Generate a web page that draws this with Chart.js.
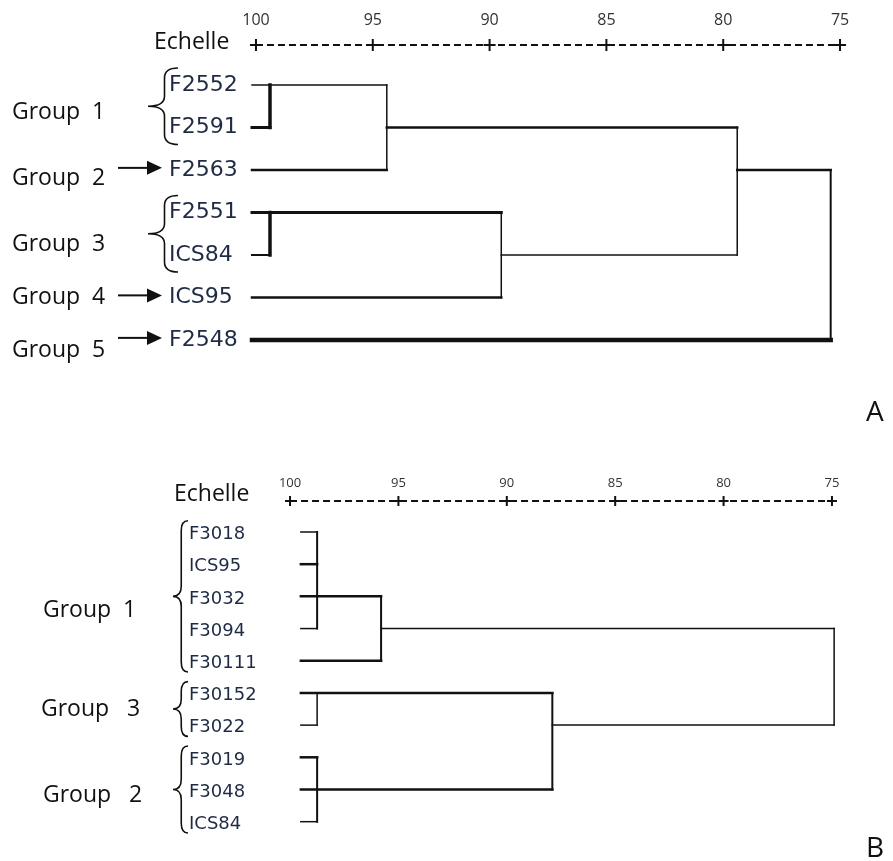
<!DOCTYPE html>
<html>
<head>
<meta charset="utf-8">
<script src="https://cdn.jsdelivr.net/npm/chart.js@4.4.0/dist/chart.umd.min.js"></script>
<style>
  body { margin: 0; background: #fff; }
  #page { position: relative; width: 893px; height: 861px; overflow: hidden; font-family: 'Open Sans', sans-serif; color: #111; }
  .wrap { position: absolute; left: 0; width: 893px; }
  .lbl { position: absolute; white-space: pre; line-height: 1; transform: translateY(-50%); }
</style>
</head>
<body>
<div id="page">
  <div class="wrap" style="top:0;height:400px"><canvas id="chartA" width="893" height="400"></canvas></div>
  <div class="wrap" style="top:450px;height:411px"><canvas id="chartB" width="893" height="411"></canvas></div>

  <div class="lbl" style="left:154px;top:40px;font-size:23px">Echelle</div>
  <div class="lbl" style="left:12px;top:110px;font-size:23px">Group  1</div>
  <div class="lbl" style="left:12px;top:176px;font-size:23px">Group  2</div>
  <div class="lbl" style="left:12px;top:242px;font-size:23px">Group  3</div>
  <div class="lbl" style="left:12px;top:295px;font-size:23px">Group  4</div>
  <div class="lbl" style="left:12px;top:348px;font-size:23px">Group  5</div>
  <div class="lbl" style="left:866px;top:410px;font-size:28px">A</div>

  <div class="lbl" style="left:174px;top:492px;font-size:23px">Echelle</div>
  <div class="lbl" style="left:43px;top:608px;font-size:23px">Group  1</div>
  <div class="lbl" style="left:41px;top:707px;font-size:23px">Group   3</div>
  <div class="lbl" style="left:43px;top:793px;font-size:23px">Group   2</div>
  <div class="lbl" style="left:866px;top:846px;font-size:28px">B</div>
</div>
<script>
// scale ticks (similarity, %)
const scaleTicks = [100, 95, 90, 85, 80, 75];

// ---- panel A ----
const leavesA = ['F2552', 'F2591', 'F2563', 'F2551', 'ICS84', 'ICS95', 'F2548'];
const leafStartA = 100.17;
const leafEndA = [94.4, 99.4, 94.4, 89.5, 99.4, 89.5, 75.4];
const mergeLevelA = [99.4, 94.4, 99.4, 89.5, 79.4, 75.4];
const mergeTopA = [0, 0, 3, 3, 1, 2];
const mergeBottomA = [1, 2, 4, 5, 4, 6];
const mergeOutRowA = [null, 1, null, 4, 2, null];
const mergeOutToA = [null, 79.4, null, 79.4, 75.4, null];
const bracesA = [[0, 1], [3, 4]];
const arrowsA = [2, 5, 6];

// ---- panel B ----
const leavesB = ['F3018', 'ICS95', 'F3032', 'F3094', 'F30111', 'F30152', 'F3022', 'F3019', 'F3048', 'ICS84'];
const leafStartB = 99.5;
const leafEndB = [98.75, 98.75, 95.8, 98.75, 95.8, 87.9, 98.75, 98.75, 87.9, 98.75];
const mergeLevelB = [98.75, 95.8, 98.75, 98.75, 87.9, 74.9];
const mergeTopB = [0, 2, 5, 7, 5, 3];
const mergeBottomB = [3, 4, 6, 9, 8, 6];
const mergeOutRowB = [null, 3, null, null, 6, null];
const mergeOutToB = [null, 74.9, null, null, 74.9, null];
const bracesB = [[0, 4], [5, 6], [7, 9]];

// line widths (style only)
const wLeafA = [1.5, 3, 2.5, 3, 2, 2.5, 4.5];
const wMergeA = [3.5, 1.5, 3.5, 1.5, 1.5, 2];
const wOutA = [0, 2.5, 0, 1.5, 2.5, 0];
const wLeafB = [1.5, 2.5, 2.5, 1.5, 2.5, 2.5, 1.5, 2.5, 2.5, 1.5];
const wMergeB = [2, 2, 1.5, 2, 2, 1.5];
const wOutB = [0, 1.5, 0, 0, 1.5, 0];

function segment(a, b, w) {
  return {
    data: [a, b], showLine: true, borderColor: '#111', borderWidth: w,
    borderCapStyle: 'square', pointRadius: 0, fill: false, clip: false
  };
}

function buildSets(p, yTop) {
  const sets = [];
  p.leafEnd.forEach((end, r) => {
    sets.push(segment({ x: p.leafStart, y: r }, { x: end, y: r }, p.wLeaf[r]));
  });
  p.mergeLevel.forEach((lv, i) => {
    sets.push(segment({ x: lv, y: p.mergeTop[i] }, { x: lv, y: p.mergeBottom[i] }, p.wMerge[i]));
    if (p.mergeOutRow[i] !== null) {
      sets.push(segment({ x: lv, y: p.mergeOutRow[i] }, { x: p.mergeOutTo[i], y: p.mergeOutRow[i] }, p.wOut[i]));
    }
  });
  // dashed scale line with "+" marks
  sets.push({
    data: [{ x: scaleTicks[0], y: yTop }, { x: scaleTicks[scaleTicks.length - 1], y: yTop }],
    showLine: true, borderColor: '#111', borderWidth: 2, borderDash: [7, 4],
    pointRadius: 0, clip: false
  });
  sets.push({
    data: scaleTicks.map(v => ({ x: v, y: yTop })),
    showLine: false, pointStyle: 'cross', pointRadius: p.crossR,
    pointBorderWidth: 2, borderColor: '#111', clip: false
  });
  return sets;
}

const groupMarks = {
  id: 'groupMarks',
  afterDraw(chart, args, opts) {
    const ctx = chart.ctx;
    const y = chart.scales.y;
    ctx.save();
    ctx.strokeStyle = '#111';
    ctx.fillStyle = '#111';
    ctx.lineWidth = 1.6;
    (opts.braces || []).forEach(([r0, r1]) => {
      const top = y.getPixelForValue(r0 - opts.braceExt);
      const bot = y.getPixelForValue(r1 + opts.braceExt);
      const mid = (top + bot) / 2;
      const xe = opts.braceEnd, xt = opts.braceTip;
      const xm = xt + (xe - xt) * 0.55;
      const k = Math.min(10, (bot - top) / 5);
      ctx.beginPath();
      ctx.moveTo(xe, top);
      ctx.quadraticCurveTo(xm, top, xm, top + k);
      ctx.lineTo(xm, mid - k);
      ctx.quadraticCurveTo(xm, mid, xt, mid);
      ctx.quadraticCurveTo(xm, mid, xm, mid + k);
      ctx.lineTo(xm, bot - k);
      ctx.quadraticCurveTo(xm, bot, xe, bot);
      ctx.stroke();
    });
    (opts.arrows || []).forEach(r => {
      const py = y.getPixelForValue(r - 0.05);
      const x0 = opts.arrowFrom, x1 = opts.arrowTo;
      ctx.lineWidth = 2;
      ctx.beginPath();
      ctx.moveTo(x0, py);
      ctx.lineTo(x1 - 14, py);
      ctx.stroke();
      ctx.beginPath();
      ctx.moveTo(x1, py);
      ctx.lineTo(x1 - 15, py - 7);
      ctx.lineTo(x1 - 15, py + 7);
      ctx.closePath();
      ctx.fill();
    });
    ctx.restore();
  }
};

function makeDendro(id, p) {
  new Chart(document.getElementById(id), {
    type: 'scatter',
    data: { datasets: buildSets(p, p.yMin) },
    options: {
      responsive: false,
      animation: false,
      events: [],
      layout: { padding: { left: p.padLeft, right: p.padRight, top: 0, bottom: p.padBottom } },
      plugins: {
        legend: { display: false },
        tooltip: { enabled: false },
        groupMarks: p.marks
      },
      scales: {
        x: {
          type: 'linear', position: 'top', reverse: true,
          min: 74.8, max: 100.2,
          afterBuildTicks: s => { s.ticks = scaleTicks.map(v => ({ value: v })); },
          afterFit: s => { s.height = p.axisH; },
          ticks: {
            color: '#333', padding: p.tickPad,
            font: { family: 'Open Sans', size: p.tickSize },
            callback: v => String(v)
          },
          grid: { drawOnChartArea: false, drawTicks: false },
          border: { display: false }
        },
        y: {
          type: 'linear', reverse: true, min: p.yMin, max: p.yMax,
          afterBuildTicks: s => { s.ticks = p.leaves.map((_, i) => ({ value: i + p.labelShift })); },
          afterFit: s => { s.width = p.yW; },
          ticks: {
            crossAlign: 'far', autoSkip: false, color: '#1f2a44',
            font: { family: 'DejaVu Sans', size: p.leafSize },
            callback: v => p.leaves[Math.round(v)]
          },
          grid: { display: false },
          border: { display: false }
        }
      }
    },
    plugins: [groupMarks]
  });
}

makeDendro('chartA', {
  leaves: leavesA, leafStart: leafStartA, leafEnd: leafEndA,
  mergeLevel: mergeLevelA, mergeTop: mergeTopA, mergeBottom: mergeBottomA,
  mergeOutRow: mergeOutRowA, mergeOutTo: mergeOutToA,
  wLeaf: wLeafA, wMerge: wMergeA, wOut: wOutA,
  yMin: -0.941, yMax: 6.494, padLeft: 169, yW: 82.3, padRight: 48.3, padBottom: 39,
  axisH: 45, tickPad: 15, tickSize: 16, leafSize: 22, labelShift: 0, crossR: 6,
  marks: { braces: bracesA, braceExt: 0.4, braceTip: 148, braceEnd: 178, arrows: arrowsA, arrowFrom: 118, arrowTo: 162 }
});

makeDendro('chartB', {
  leaves: leavesB, leafStart: leafStartB, leafEnd: leafEndB,
  mergeLevel: mergeLevelB, mergeTop: mergeTopB, mergeBottom: mergeBottomB,
  mergeOutRow: mergeOutRowB, mergeOutTo: mergeOutToB,
  wLeaf: wLeafB, wMerge: wMergeB, wOut: wOutB,
  yMin: -0.963, yMax: 9.6, padLeft: 189, yW: 96.7, padRight: 56.7, padBottom: 20,
  axisH: 51, tickPad: 10, tickSize: 13, leafSize: 18, labelShift: 0.08, crossR: 5,
  marks: { braces: bracesB, braceExt: 0.35, braceTip: 173, braceEnd: 188, arrows: [] }
});
</script>
</body>
</html>
